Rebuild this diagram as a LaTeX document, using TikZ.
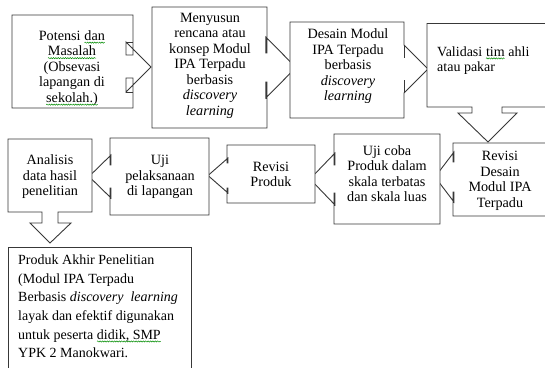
\documentclass[tikz,border=0pt]{standalone}
\usepackage{fontspec}
\setmainfont{Liberation Serif}
\usetikzlibrary{decorations.pathmorphing}
\tikzset{
  shp/.style={draw=black!78, line width=0.9pt, fill=white, line join=miter},
  edg/.style={draw=black!78, line width=0.9pt},
  txt/.style={font=\fontsize{14.2}{15.5}\selectfont, align=center, inner sep=0pt, text=black},
  ltxt/.style={font=\fontsize{14}{15.5}\selectfont, align=left, inner sep=0pt, text=black},
  btxt/.style={font=\fontsize{14}{18.6}\selectfont, align=left, inner sep=0pt, text=black},
}
\newcommand\spl[1]{\tikz[baseline=(w.base),x=1pt,y=1pt]{\node[inner sep=0pt,outer sep=0pt](w){#1};\draw[green!55!black,line width=0.5pt,decorate,decoration={snake,amplitude=0.6pt,segment length=2.4pt}] ([yshift=-2.3pt]w.base west)--([yshift=-2.3pt]w.base east);}}
\begin{document}
\begin{tikzpicture}[x=1pt,y=-1pt]
\useasboundingbox (0,0) rectangle (545,367);
\clip (0,0) rectangle (545,367);
\fill[white] (0,0) rectangle (545,367);
% box 1
\path[shp] (12,15) -- (133,15) -- (133,55) -- (126,55) -- (126,42) -- (151,67) -- (126,92) -- (126,78) -- (133,78) -- (133,108) -- (12,108) -- cycle;
\draw[edg] (126,42) -- (133,42) (126,92) -- (133,92);
% box 2
\path[shp] (152,7) -- (267,7) -- (267,53) -- (265.8,53) -- (265.8,37) -- (296,67.5) -- (265.8,98) -- (265.8,82) -- (267,82) -- (267,128) -- (152,128) -- cycle;
\draw[edg] (265.8,37) -- (267,37) (265.8,98) -- (267,98);
% box 3
\path[shp] (290,22) -- (404,22) -- (404,45) -- (428,69) -- (404,93) -- (404,118) -- (290,118) -- cycle;
\draw[edg] (404,45) -- (404,58) (404,80) -- (404,93);
% box 4
\path[shp] (427,23.5) -- (548,23.5) -- (548,107) -- (502,107) -- (502,113) -- (517,113) -- (488,142) -- (458,113) -- (472,113) -- (472,107) -- (427,107) -- cycle;
% box 5
\path[shp] (453,143) -- (548,143) -- (548,216) -- (453,216) -- (453,192) -- (454,192) -- (454,202) -- (435,177) -- (454,152) -- (454,162) -- (453,162) -- cycle;
\draw[edg] (454,152) -- (453,152) (454,202) -- (453,202);
% box 6
\path[shp] (334,134) -- (440,134) -- (440,224) -- (334,224) -- (334,193) -- (335,193) -- (335,205) -- (310,179) -- (335,153) -- (335,165) -- (334,165) -- cycle;
\draw[edg] (335,153) -- (334,153) (335,205) -- (334,205);
% box 7
\path[shp] (227,145) -- (315,145) -- (315,203) -- (227,203) -- (227,188) -- (228,188) -- (228,193) -- (208,175.5) -- (228,158) -- (228,163) -- (227,163) -- cycle;
\draw[edg] (228,158) -- (227,158) (228,193) -- (227,193);
% box 8
\path[shp] (110,138) -- (209,138) -- (209,215) -- (110,215) -- (110,188) -- (111,188) -- (111,198) -- (89,176.5) -- (111,155) -- (111,165) -- (110,165) -- cycle;
\draw[edg] (111,155) -- (110,155) (111,198) -- (110,198);
% box 9
\path[shp] (8,139) -- (92,139) -- (92,212) -- (58,212) -- (58,223) -- (71,223) -- (50,243) -- (30,223) -- (42,223) -- (42,212) -- (8,212) -- cycle;
% box 10
\path[shp] (8,247) -- (191,247) -- (191,372) -- (8,372) -- cycle;

% texts
\node[txt] (t1) at (72,68) {Potensi \spl{dan}\\\spl{Masalah}\\(Obsevasi\\lapangan di\\\spl{sekolah.)}};
\node[txt] (t2) at (210,65.5) {Menyusun\\rencana atau\\konsep Modul\\IPA Terpadu\\berbasis\\\textit{discovery}\\\textit{learning}};
\node[txt] (t3) at (348,66.5) {Desain Modul\\IPA Terpadu\\berbasis\\\textit{discovery}\\\textit{learning}};
\node[ltxt, anchor=west] (t4) at (437,60.5) {Validasi \spl{tim} ahli\\atau pakar};
\node[txt] (t5) at (500,181) {Revisi\\Desain\\Modul IPA\\Terpadu};
\node[txt] (t6) at (387,173.5) {Uji coba\\Produk dalam\\skala terbatas\\dan skala luas};
\node[txt] (t7) at (271,174.5) {Revisi\\Produk};
\node[txt] (t8) at (160,177) {Uji\\pelaksanaan\\di lapangan};
\node[txt] (t9) at (50,177) {Analisis\\data hasil\\penelitian};
\node[btxt, anchor=west] (t10) at (18,306.5) {Produk Akhir Penelitian\\(Modul IPA Terpadu\\Berbasis \textit{discovery\ \ learning}\\layak dan efektif digunakan\\untuk peserta \spl{didik, SMP}\\YPK 2 Manokwari.};
\end{tikzpicture}
\end{document}
